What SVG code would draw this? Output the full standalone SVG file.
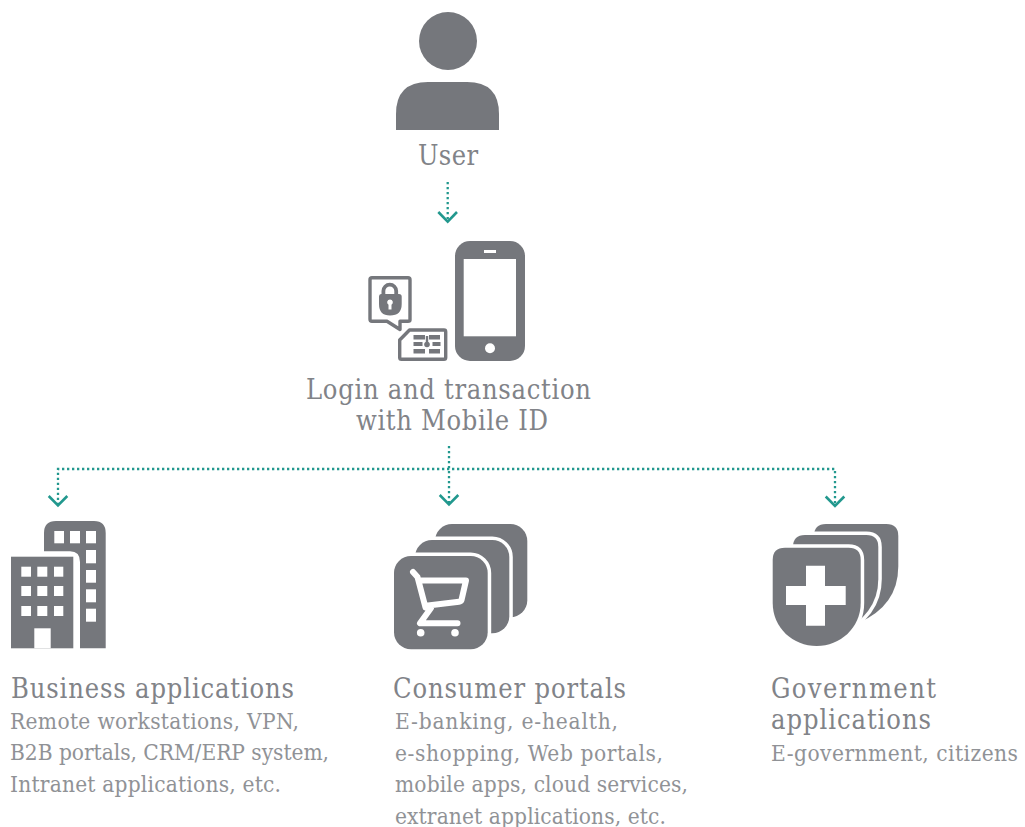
<svg xmlns="http://www.w3.org/2000/svg" width="1025" height="827" viewBox="0 0 1025 827">
<style>
text{font-family:"DejaVu Serif Condensed","DejaVu Serif","Liberation Serif",serif}
.h{font-size:27px;fill:#818388}
.b{font-size:22.500px;fill:#909296}
.g{fill:#75777c}
.w{fill:#fff}
.ol{fill:none;stroke:#75777c;stroke-width:3.400;stroke-linejoin:round}
.d{fill:none;stroke:#22988e;stroke-width:2.300;stroke-dasharray:2.300 2.700}
.a{fill:none;stroke:#22988e;stroke-width:2.600}
.lay{fill:#75777c;stroke:#fff;stroke-width:7;paint-order:stroke}
.cw{fill:none;stroke:#fff;stroke-width:6;stroke-linejoin:round;stroke-linecap:round}
</style>
<rect width="1025" height="827" fill="#fff"/>
<g id="connectors">
<path class="d" d="M447.700 182V219"/>
<path class="a" d="M438.300 212L447.700 221.600L457 212"/>
<path class="d" d="M449 446V503"/>
<path class="d" d="M58 505V469H835V505"/>
<path class="a" d="M48.700 496L58 505.500L67.300 496"/>
<path class="a" d="M439.700 495L449 504.500L458.300 495"/>
<path class="a" d="M825.700 496.500L835 506L844.300 496.500"/>
</g>
<g id="user">
<circle class="g" cx="448" cy="41" r="29"/>
<path class="g" d="M396 130V114Q396 82 428 82H467Q499 82 499 114V130Z"/>
<text class="h" x="418" y="165" textLength="60">User</text>
</g>
<g id="mobile-id">
<rect class="g" x="455" y="241" width="70" height="120" rx="15"/>
<rect class="w" x="463.700" y="259" width="52.300" height="77.300"/>
<rect class="w" x="484" y="250" width="12" height="3"/>
<circle class="w" cx="490" cy="348.300" r="5"/>
<path class="ol" d="M372 277.700H408Q410 277.700 410 279.700V320Q410 321.300 408 321.300H400V329.500L387 321.300H372Q370 321.300 370 319.300V279.700Q370 277.700 372 277.700Z"/>
<path class="g" d="M381.500 297V291a8.300 8.300 0 0 1 16.600 0V297H394.300V291a4.500 4.500 0 0 0 -9 0V297Z"/>
<path class="g" fill-rule="evenodd" d="M381 294H399Q401.700 294 401.700 296.500V304Q401.700 315.500 390 315.500Q379 315.500 379 304V296.500Q379 294 381 294ZM390 299.500a2.800 2.800 0 0 0 -1.500 5.200V309.500H391.500V304.700a2.800 2.800 0 0 0 -1.500 -5.200Z"/>
<path class="ol" d="M409.500 330H444Q445.700 330 445.700 331.700V357.500Q445.700 359.300 444 359.300H401.500Q399.700 359.300 399.700 357.500V340Z"/>
<g class="g">
<rect x="413.500" y="335" width="11.500" height="4.500"/><rect x="413.500" y="342" width="9" height="4"/><rect x="413.500" y="349" width="11.500" height="4.500"/>
<rect x="429" y="335" width="11" height="4.500"/><rect x="432.500" y="342" width="8" height="4"/><rect x="429" y="349" width="11" height="4.500"/>
<circle cx="427" cy="344.500" r="2.800"/><rect x="425.800" y="336" width="2.400" height="7"/>
</g>
<text class="h" x="306" y="399" textLength="285">Login and transaction</text>
<text class="h" x="356" y="430" textLength="192">with Mobile ID</text>
</g>
<g id="business">
<path class="g" d="M44 551.300V533Q44 521 56 521H94Q105.700 521 105.700 533V648.300H80V562Q80 551.300 70 551.300Z"/>
<rect class="g" x="11" y="556.700" width="62.300" height="91.600"/>
<g class="w">
<rect x="54.300" y="531" width="9.700" height="12.300"/><rect x="70" y="531" width="10" height="12.300"/><rect x="86" y="531" width="10" height="12.300"/>
<rect x="86" y="550" width="10" height="13.300"/><rect x="86" y="570" width="10" height="12.700"/><rect x="86" y="589.300" width="10" height="13"/><rect x="86" y="608.700" width="10" height="13"/>
<rect x="21.300" y="566.700" width="9.700" height="10"/><rect x="37.300" y="566.700" width="10" height="10"/><rect x="54" y="566.700" width="9.300" height="10"/>
<rect x="21.300" y="586" width="9.700" height="10"/><rect x="37.300" y="586" width="10" height="10"/><rect x="54" y="586" width="9.300" height="10"/>
<rect x="21.300" y="606" width="9.700" height="10"/><rect x="37.300" y="606" width="10" height="10"/><rect x="54" y="606" width="9.300" height="10"/>
<rect x="34.300" y="628.300" width="16.400" height="20"/>
</g>
<text class="h" x="11" y="698" textLength="283">Business applications</text>
<text class="b" x="10" y="729" textLength="289">Remote workstations, VPN,</text>
<text class="b" x="10" y="760" textLength="319">B2B portals, CRM/ERP system,</text>
<text class="b" x="10" y="792" textLength="271">Intranet applications, etc.</text>
</g>
<g id="consumer">
<rect class="g" x="435" y="524" width="92.300" height="93.300" rx="17"/>
<rect class="lay" x="415" y="540" width="94.300" height="93.300" rx="17"/>
<rect class="lay" x="394" y="556" width="93.700" height="93.300" rx="17"/>
<path class="cw" d="M413 572L417.500 577L425.500 607.500M419 580.500H466L461.500 600Q461 601.500 459 601.700L428 605.500M431 608L420 623.300H457.500"/>
<circle class="w" cx="420.700" cy="632.700" r="3.800"/>
<circle class="w" cx="455" cy="632.700" r="3.800"/>
<text class="h" x="393" y="698" textLength="233">Consumer portals</text>
<text class="b" x="395" y="729" textLength="223">E-banking, e-health,</text>
<text class="b" x="395" y="761" textLength="268">e-shopping, Web portals,</text>
<text class="b" x="395" y="792" textLength="293">mobile apps, cloud services,</text>
<text class="b" x="395" y="824" textLength="271">extranet applications, etc.</text>
</g>
<g id="government">
<path class="g" d="M814 536Q814 524 826 524H886.300Q898.300 524 898.300 536V566Q898.300 606 858 623H814Z"/>
<path class="lay" d="M793 547Q793 535 805 535H866.300Q878.300 535 878.300 547V579Q878.300 615 838 634H793Z"/>
<path class="lay" d="M772.700 603V560Q772.700 547.700 785 547.700H848.500Q860.700 547.700 860.700 560V603C860.700 628 840 646 816.700 646C793 646 772.700 628 772.700 603Z"/>
<path class="w" d="M806 565.700H825V586H845.700V605H825V625.700H806V605H786V586H806Z"/>
<text class="h" x="771" y="698" textLength="165">Government</text>
<text class="h" x="771" y="729" textLength="160">applications</text>
<text class="b" x="771" y="761" textLength="247">E-government, citizens</text>
</g>
</svg>
